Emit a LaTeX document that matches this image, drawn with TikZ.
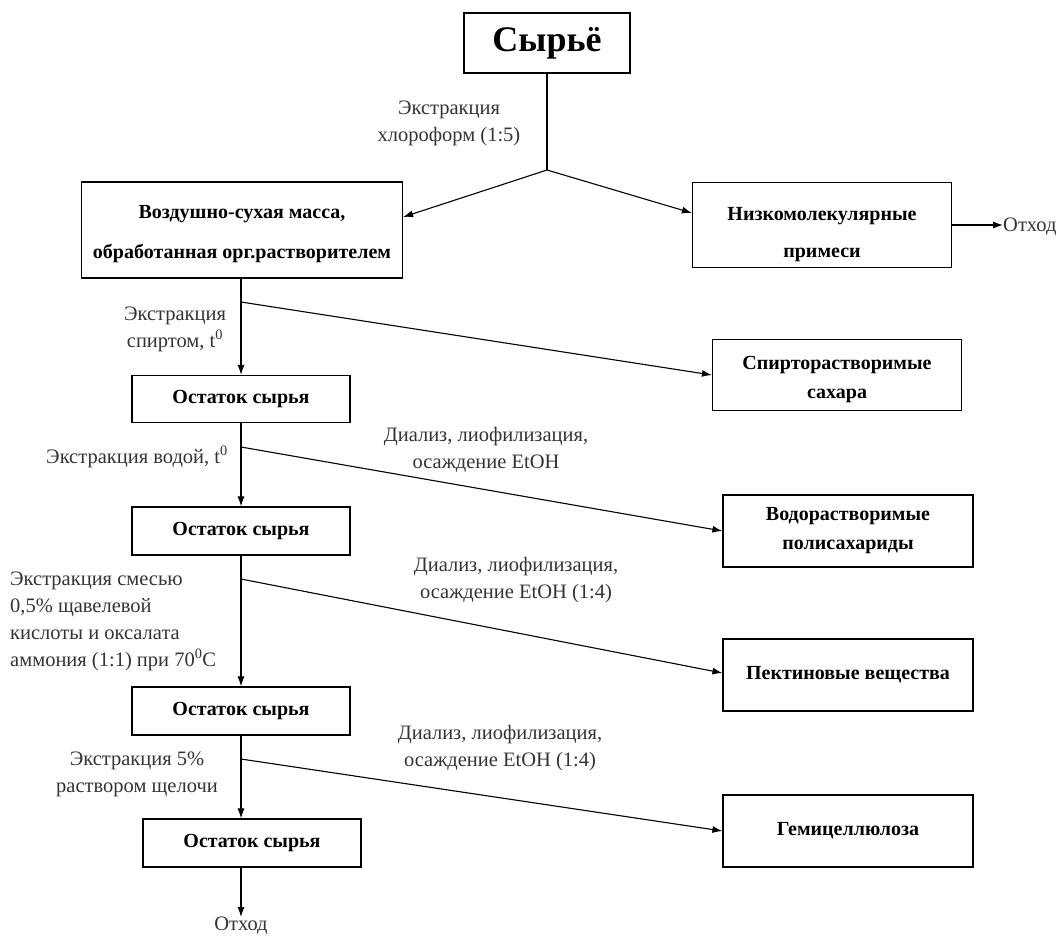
\documentclass[tikz,border=0pt]{standalone}
\usepackage{fontspec}
\setmainfont{Liberation Serif}
\usetikzlibrary{arrows.meta}

\begin{document}
\begin{tikzpicture}[x=1pt,y=-1pt,
		box/.style={draw, line width=1.2pt, align=center, inner sep=0pt, font=\bfseries\fontsize{20}{29}\selectfont},
		note/.style={align=center, inner sep=0pt, text=black!80, font=\fontsize{20.5}{27}\selectfont},
		flow/.style={line width=1.1pt, -{Latex[length=10pt,width=7pt]}},
		link/.style={line width=1.1pt}]
		\useasboundingbox (0,0) rectangle (1062,935);
		
		\node[box, font=\bfseries\fontsize{36}{40}\selectfont, minimum width=166pt, minimum height=60pt] (raw) at (547,43) {Сырьё};
		
		\node[box, font=\bfseries\fontsize{20}{40}\selectfont, minimum width=321pt, minimum height=96pt] (air) at (242,230) {\rule{0pt}{22pt}Воздушно-сухая масса,\\обработанная орг.растворителем};
		\node[box, font=\bfseries\fontsize{20}{37}\selectfont, minimum width=259pt, minimum height=85pt] (lowmol) at (822,225) {\rule{0pt}{32pt}Низкомолекулярные\\примеси};
		\node[note, anchor=west] (waste1) at (1003,227) {Отход};
		
		\node[box, minimum width=249pt, minimum height=71pt] (spirit) at (837,375) {\rule{0pt}{22pt}Спирторастворимые\\сахара};
		\node[box, minimum width=218pt, minimum height=47pt] (res1) at (241,399) {Остаток сырья};
		
		\node[box, minimum width=250pt, minimum height=72pt] (water) at (848,531) {Водорастворимые\\полисахариды};
		\node[box, minimum width=218pt, minimum height=48pt] (res2) at (241,531) {Остаток сырья};
		
		\node[box, minimum width=250pt, minimum height=72pt] (pectin) at (848,675) {Пектиновые вещества};
		\node[box, minimum width=218pt, minimum height=48pt] (res3) at (241,711) {Остаток сырья};
		
		\node[box, minimum width=250pt, minimum height=72pt] (hemi) at (848,831) {Гемицеллюлоза};
		\node[box, minimum width=218pt, minimum height=48pt] (res4) at (252,843) {Остаток сырья};
		\node[note] (waste2) at (241,926) {Отход};
		
		\node[note] (lchlor) at (449,123) {Экстракция\\хлороформ (1:5)};
		\node[note] (lspirit) at (175,329) {Экстракция\\спиртом, t\textsuperscript{0}};
		\node[note, anchor=east] (lwater) at (228,457) {Экстракция водой, t\textsuperscript{0}};
		\node[note] (ldial1) at (486,450) {Диализ, лиофилизация,\\осаждение EtOH};
		\node[note, align=left, anchor=west] (loxal) at (10,621) {Экстракция смесью\\0,5\% щавелевой\\кислоты и оксалата\\аммония (1:1) при 70\textsuperscript{0}C};
		\node[note] (ldial2) at (516,580) {Диализ, лиофилизация,\\осаждение EtOH (1:4)};
		\node[note] (lalkali) at (137,774) {Экстракция 5\%\\раствором щелочи};
		\node[note] (ldial3) at (500,748) {Диализ, лиофилизация,\\осаждение EtOH (1:4)};
		
		\coordinate (split) at (547,170);
		\coordinate (b1) at (241,302);
		\coordinate (b2) at (241,447);
		\coordinate (b3) at (241,579);
		\coordinate (b4) at (241,759);
		
		\path [link] (raw) edge (split);
		\path [flow] (split) edge ([yshift=13pt]air.east);
		\path [flow] (split) edge ([yshift=12pt]lowmol.west);
		\path [flow] (lowmol.east) edge (lowmol.east -| waste1.west);
		
		\path [link] (air.south -| b1) edge (b1);
		\path [flow] (b1) edge (res1);
		\path [flow] (b1) edge (spirit.west);
		
		\path [link] (res1) edge (b2);
		\path [flow] (b2) edge (res2);
		\path [flow] (b2) edge (water.west);
		
		\path [link] (res2) edge (b3);
		\path [flow] (b3) edge (res3);
		\path [flow] (b3) edge ([yshift=2pt]pectin.west);
		
		\path [link] (res3) edge (b4);
		\path [flow] (b4) edge (b4 |- res4.north);
		\path [flow] (b4) edge (hemi.west);
		\path [flow] (b4 |- res4.south) edge (waste2);
		
\end{tikzpicture}
\end{document}
